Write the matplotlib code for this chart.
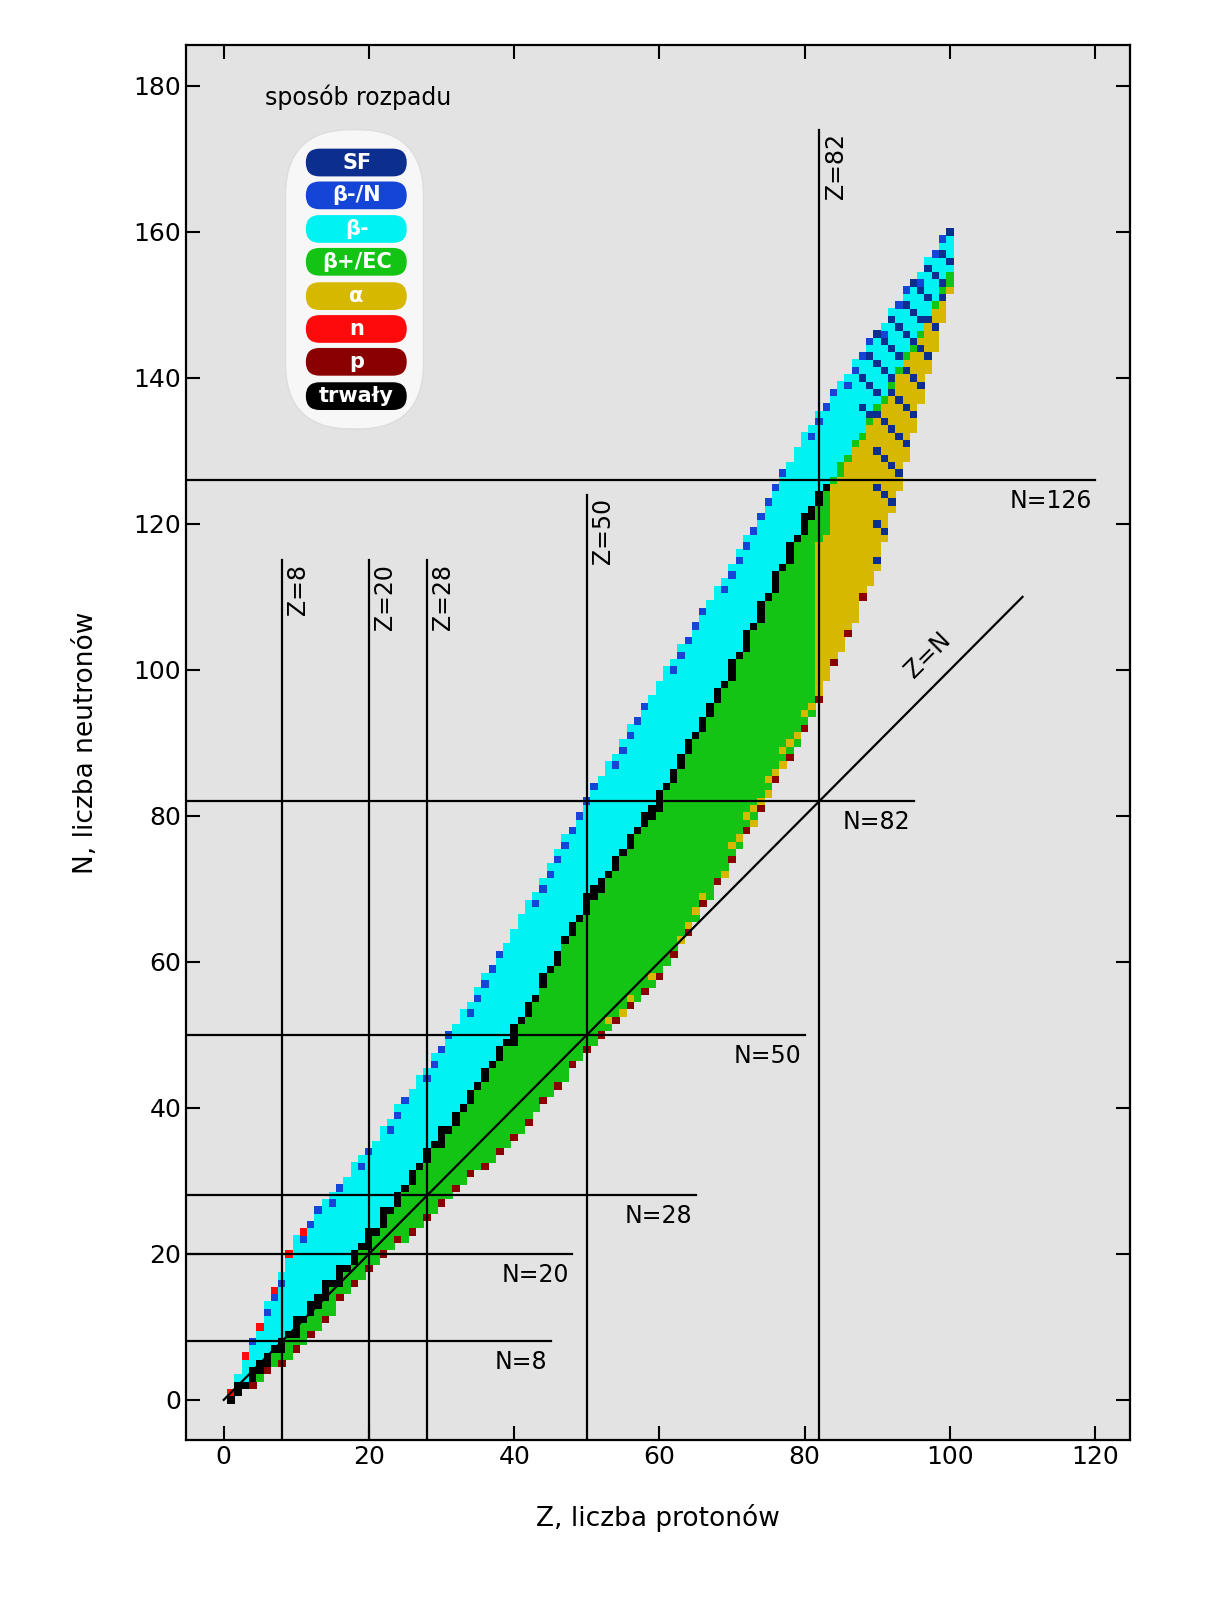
import numpy as np
import matplotlib
matplotlib.use("Agg")
import matplotlib.pyplot as plt
from matplotlib.patches import FancyBboxPatch

# boundary estimates (per Z)
Z_pts   = [1, 10, 20, 30, 40, 50, 60, 70, 80, 90, 100]
N_min   = [0, 7, 18, 27, 36, 48, 58, 74, 92, 114, 152]
N_stab  = [0, 10, 22, 36, 50, 68, 82, 100, 120, 136, 154]
N_max   = [1, 22, 34, 48, 64, 82, 98, 114, 132, 146, 160]

magic_Z = [8, 20, 28, 50, 82]
magic_Z_top = [115, 115, 115, 124, 174]
magic_N = [8, 20, 28, 50, 82, 126]
magic_N_right = [45, 48, 65, 80, 95, 120]

legend_labels = ["SF", "β-/N", "β-", "β+/EC", "α", "n", "p", "trwały"]
legend_colors = ["#0b2e8f", "#1545d6", "#00f2f2", "#14c414", "#d6b800", "#ff0a0a", "#8a0000", "#000000"]
C = dict(zip(legend_labels, legend_colors))

fig = plt.figure(figsize=(12.07, 16), dpi=100)
ax = fig.add_axes([186/1207, 1-1440/1600, (1130-186)/1207, (1440-45)/1600])
ax.set_facecolor("#e3e3e3")
ax.set_xlim(-5.2, 124.8)
ax.set_ylim(-5.5, 185.6)

xs, ys, cs = [], [], []
for Z in range(1, 101):
    lo = int(round(np.interp(Z, Z_pts, N_min)))
    hi = int(round(np.interp(Z, Z_pts, N_max)))
    st = np.interp(Z, Z_pts, N_stab)
    for N in range(lo, hi + 1):
        if Z <= 83 and abs(N - st) <= (1.2 if Z % 2 == 0 else 0.6):
            c = C["trwały"]
        elif N > st:
            c = C["β-"]
            if N >= hi - 1 and (N + Z) % 3 == 0:
                c = C["β-/N"]
            if Z >= 88 and (N + Z) % 4 == 0:
                c = C["SF"]
        else:
            c = C["β+/EC"]
            if Z >= 84 and N < st - 1:
                c = C["α"]
            elif 82 <= Z < 84 and N < st - 6:
                c = C["α"]
            elif 70 <= Z < 82 and N <= lo + 2 and (N + Z) % 2 == 0:
                c = C["α"]
            elif 52 <= Z < 70 and N <= lo + 1 and (N + Z) % 3 == 0:
                c = C["α"]
            if N <= lo and (Z % 2 == 0) and Z < 90:
                c = C["p"]
            if Z >= 90 and (N + Z) % 5 == 0:
                c = C["SF"]
        if N >= hi and Z < 12 and Z % 2 == 1:
            c = C["n"]
        xs.append(Z); ys.append(N); cs.append(c)

ax.scatter(xs, ys, c=cs, marker="s", s=30, linewidths=0, zorder=2)

for z, top in zip(magic_Z, magic_Z_top):
    ax.plot([z, z], [-5.5, top], color="black", lw=1.6, zorder=3)
    ax.text(z + 0.6, top - 0.5, f"Z={z}", rotation=90, ha="left", va="top", fontsize=17, zorder=4)
for n, r in zip(magic_N, magic_N_right):
    ax.plot([-5.2, r], [n, n], color="black", lw=1.6, zorder=3)
    ax.text(r - 0.5, n - 1.2, f"N={n}", ha="right", va="top", fontsize=17, zorder=4)
ax.plot([0, 110], [0, 110], color="black", lw=1.6, zorder=3)
ax.text(97, 102, "Z=N", rotation=45, ha="center", va="center", fontsize=17, zorder=4)

# legend
ax.add_patch(FancyBboxPatch((8.5, 133), 19, 41, boxstyle="round,pad=0,rounding_size=9",
                            mutation_aspect=1.0, fc="#f7f7f7", ec="#dddddd", lw=1, zorder=5))
ax.text(18.5, 178.5, "sposób rozpadu", ha="center", va="center", fontsize=17, zorder=6)
centers = [169.5, 165, 160.4, 155.9, 151.2, 146.7, 142.2, 137.5]
for lab, col, cy in zip(legend_labels, legend_colors, centers):
    ax.add_patch(FancyBboxPatch((11.3, cy - 1.9), 13.9, 3.8, boxstyle="round,pad=0,rounding_size=1.9",
                                fc=col, ec="none", zorder=6))
    ax.text(18.3, cy, lab, ha="center", va="center", color="white", fontsize=15,
            fontweight="bold", zorder=7)

ax.set_xticks(range(0, 121, 20))
ax.set_yticks(range(0, 181, 20))
ax.tick_params(direction="in", length=10, width=1.5, top=True, right=True, labelsize=18)
for s in ax.spines.values():
    s.set_linewidth(1.6)
ax.set_xlabel("Z, liczba protonów", fontsize=19, labelpad=25)
ax.set_ylabel("N, liczba neutronów", fontsize=19, labelpad=25)
fig.savefig("out.png", dpi=100)
